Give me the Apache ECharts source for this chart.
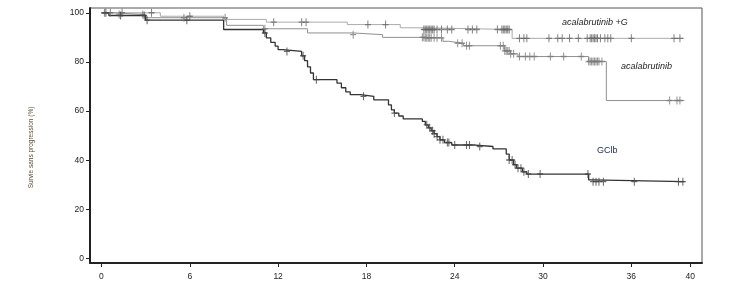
<!DOCTYPE html>
<html><head><meta charset="utf-8">
<script src="https://cdn.jsdelivr.net/npm/echarts@6/dist/echarts.min.js"></script>
<style>html,body{margin:0;padding:0;background:#fff}#c{width:735px;height:308px}</style>
</head><body><div id="c"></div>
<script>
// Tick labels
const xTicks = [0, 6, 12, 18, 24, 30, 36, 40];
const yTicks = [0, 20, 40, 60, 80, 100];
const seriesNames = ['acalabrutinib +G', 'acalabrutinib', 'GClb'];
const yTitle = 'Survie sans progression (%)';

// Kaplan-Meier steps [month, % progression-free]
const kmAcalG = [[0,100],[4.0,98.6],[8.3,97.3],[11.2,96.2],[16.7,95.2],[20.3,93.9],[21.9,93.2],[27.9,89.6],[39.6,89.6]];
const kmAcal = [[0,100],[0.8,99.3],[2.9,98.0],[8.5,94.9],[11.0,93.5],[14.0,91.8],[17.1,91.1],[19.1,90.0],[22.0,89.8],[23.2,88.4],[23.6,87.6],[24.6,86.6],[27.4,84.5],[27.8,83.3],[28.3,82.2],[33.1,80.2],[34.3,64.3],[39.6,64.3]];
const kmGClb = [[0,100],[0.5,98.9],[3.0,97.0],[8.3,93.2],[11.0,91.8],[11.2,89.8],[11.5,88.0],[11.8,86.4],[12.0,85.0],[12.3,84.3],[13.6,82.5],[13.8,80.5],[14.0,78.0],[14.2,75.5],[14.4,72.8],[16.0,71.4],[16.3,69.5],[16.6,67.8],[16.9,66.7],[17.6,66.0],[18.5,64.6],[19.5,62.5],[19.7,60.5],[19.9,59.2],[20.2,58.0],[20.5,56.8],[21.8,55.8],[22.0,54.4],[22.2,53.2],[22.4,52.0],[22.6,50.8],[22.8,49.6],[23.0,48.3],[23.3,47.2],[23.8,46.2],[25.4,45.6],[26.6,44.6],[27.5,42.5],[27.7,40.1],[28.0,38.2],[28.2,36.8],[28.6,35.3],[28.9,34.4],[33.1,32.0],[33.3,31.3],[39.6,31.3]];

// Censoring times (months)
const censAcalG = [0.2,0.6,1.4,3.4,6.0,11.7,13.6,13.9,18.1,19.3,21.9,22.0,22.1,22.2,22.3,22.4,22.5,22.6,22.8,23.1,23.5,23.8,24.9,25.2,25.5,26.9,27.2,27.3,27.4,27.5,27.6,27.7,28.4,28.7,28.9,30.4,31.0,31.3,31.8,32.4,33.0,33.2,33.3,33.4,33.5,33.6,33.7,33.9,34.2,34.4,34.6,36.0,38.9,39.3];
const censAcal = [1.2,2.8,5.6,8.4,11.1,17.1,21.8,21.9,22.0,22.1,22.2,22.3,22.4,22.6,22.8,23.1,24.2,24.5,24.8,25.0,27.1,27.3,27.4,27.5,27.6,27.7,27.8,28.0,28.4,28.8,29.1,29.4,30.5,31.4,32.6,33.1,33.2,33.3,33.4,33.5,33.6,33.7,33.8,34.0,38.6,39.1,39.3];
const censGClb = [0.3,1.3,2.9,3.1,5.8,11.1,12.6,13.7,14.6,17.8,19.9,22.1,22.3,22.5,22.6,22.8,23.0,23.2,23.5,23.6,24.0,24.8,25.0,25.7,27.7,27.9,28.1,28.3,28.5,28.7,29.0,29.8,33.05,33.4,33.6,33.8,34.1,36.2,39.2,39.5];

function survAt(km, t) {
  let v = km[0][1];
  for (const p of km) { if (p[0] <= t) v = p[1]; else break; }
  return v;
}
const cens = (km, times) => times.map(t => [t, survAt(km, t)]);

const FONT = 'Liberation Sans, Arial, sans-serif';
const plus = 'path://M3,0V8M0,4H6';

function kmLine(name, data, color, width) {
  return { name, type: 'line', step: 'end', data, showSymbol: false, symbol: 'none',
    lineStyle: { color, width }, silent: true, animation: false, z: 2 };
}
function censSeries(name, data, color) {
  return { name: name + ' censored', type: 'scatter', data, symbol: plus, symbolSize: [6, 8],
    itemStyle: { color: 'rgba(0,0,0,0)', borderColor: color, borderWidth: 1.2 },
    silent: true, animation: false, z: 3 };
}

const chart = echarts.init(document.getElementById('c'), null, { renderer: 'canvas' });
chart.setOption({
  animation: false,
  grid: { left: 90, right: 33, top: 8, bottom: 45, show: true, borderColor: '#555', borderWidth: 1, backgroundColor: '#fff' },
  xAxis: {
    type: 'value', min: -0.78, max: 40.8,
    axisLine: { show: true, onZero: false, lineStyle: { color: '#222', width: 2 } },
    axisTick: { show: true, customValues: xTicks, length: 4, lineStyle: { color: '#222', width: 1 } },
    axisLabel: { customValues: xTicks, fontFamily: FONT, fontSize: 8.5, color: '#222', margin: 9 },
    splitLine: { show: false }
  },
  yAxis: {
    type: 'value', min: -1.8, max: 101.95,
    axisLine: { show: true, onZero: false, lineStyle: { color: '#222', width: 2 } },
    axisTick: { show: true, customValues: yTicks, length: 4, lineStyle: { color: '#222', width: 1 } },
    axisLabel: { customValues: yTicks, fontFamily: FONT, fontSize: 8.5, color: '#222', margin: 6 },
    splitLine: { show: false }
  },
  series: [
    kmLine(seriesNames[0], kmAcalG, '#ababab', 1),
    kmLine(seriesNames[1], kmAcal, '#909090', 1),
    kmLine(seriesNames[2], kmGClb, '#333333', 1.3),
    censSeries(seriesNames[0], cens(kmAcalG, censAcalG), '#666666'),
    censSeries(seriesNames[1], cens(kmAcal, censAcal), '#7a7a7a'),
    censSeries(seriesNames[2], cens(kmGClb, censGClb), '#444444')
  ],
  graphic: [
    { type: 'text', x: 31, y: 147.5, rotation: Math.PI / 2,
      style: { text: yTitle, font: '6.5px ' + FONT, fill: '#5a4a30', align: 'center', verticalAlign: 'middle' } },
    { type: 'text', left: 562, top: 18, style: { text: seriesNames[0], font: 'italic 9px ' + FONT, fill: '#222' } },
    { type: 'text', left: 621, top: 62, style: { text: seriesNames[1], font: 'italic 9px ' + FONT, fill: '#222' } },
    { type: 'text', left: 597, top: 146, style: { text: seriesNames[2], font: '9px ' + FONT, fill: '#1a2a4a' } }
  ]
});
</script></body></html>
